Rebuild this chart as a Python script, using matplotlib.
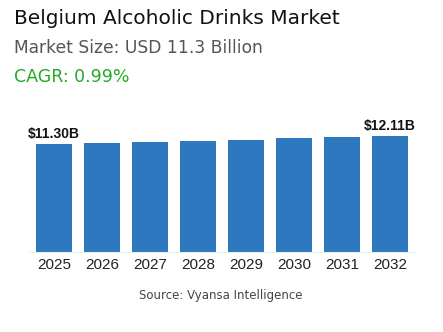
import matplotlib
matplotlib.use("Agg")
import matplotlib.pyplot as plt

years = ["2025", "2026", "2027", "2028", "2029", "2030", "2031", "2032"]
values = [11.30, 11.41, 11.52, 11.64, 11.75, 11.87, 11.99, 12.11]
labels = {0: "$11.30B", 7: "$12.11B"}

bar_color = "#2e78c0"

fig = plt.figure(figsize=(4.43, 3.32), dpi=100)
fig.patch.set_facecolor("white")

# header texts
fig.text(14 / 443, 1 - 18 / 332, "Belgium Alcoholic Drinks Market", fontsize=14.5,
         family="DejaVu Sans", color="#111111", va="center", ha="left")
fig.text(14 / 443, 1 - 48 / 332, "Market Size: USD 11.3 Billion", fontsize=12.3,
         family="DejaVu Sans", color="#555555", va="center", ha="left")
fig.text(14 / 443, 1 - 77 / 332, "CAGR: 0.99%", fontsize=12.5,
         family="DejaVu Sans", color="#22aa22", va="center", ha="left")
fig.text(221 / 443, 1 - 296 / 332, "Source: Vyansa Intelligence", fontsize=8.5,
         family="DejaVu Sans", color="#444444", va="center", ha="center")

ax = fig.add_axes([30 / 443, 80 / 332, 384 / 443, 142 / 332])
x = range(len(years))
ax.bar(x, values, width=0.73, color=bar_color)
ax.set_xlim(-0.5, len(years) - 0.5)
ax.set_ylim(0, 14.84)
ax.set_xticks(list(x))
ax.set_xticklabels(years, fontsize=11, family="Liberation Sans", color="#222222")
ax.tick_params(axis="x", length=0, pad=4)
ax.set_yticks([])
for s in ["top", "right", "left"]:
    ax.spines[s].set_visible(False)
ax.spines["bottom"].set_color("#eeeeee")
ax.spines["bottom"].set_linewidth(0.8)

for i, txt in labels.items():
    ax.text(i, values[i] + 0.3, txt, ha="center", va="bottom", fontsize=10,
            fontweight="bold", family="Liberation Sans", color="#111111")

fig.savefig("out.png", dpi=100)
